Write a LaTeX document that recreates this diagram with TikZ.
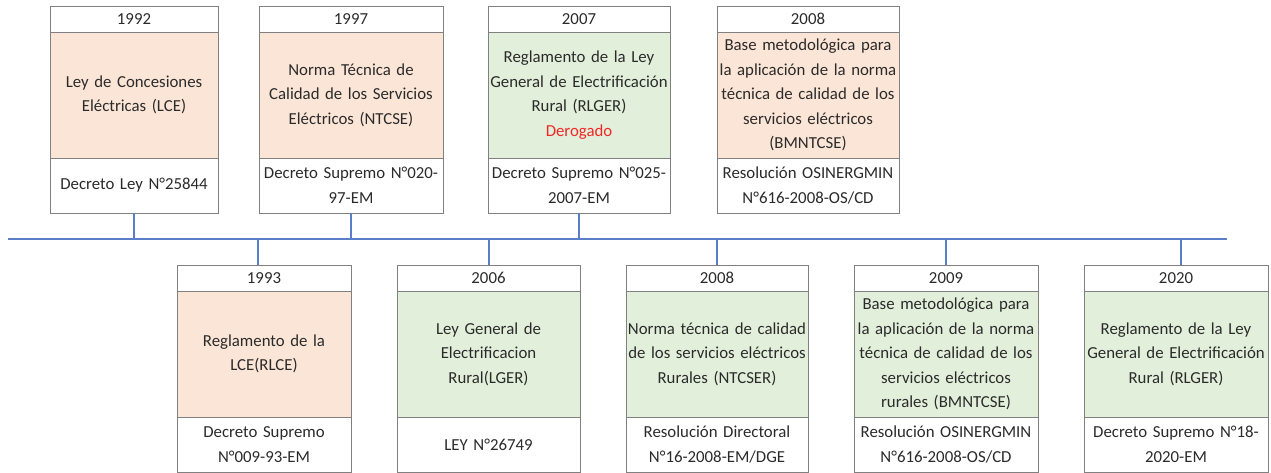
\documentclass[tikz,border=0pt]{standalone}
\usepackage{fontspec}
\setmainfont{Carlito}
\definecolor{peach}{HTML}{FBE5D6}
\definecolor{sage}{HTML}{E2EFDA}
\definecolor{frame}{HTML}{808080}
\definecolor{tline}{HTML}{5A7EC8}
\definecolor{ink}{HTML}{2B2B2B}
\definecolor{dero}{HTML}{F02828}
\tikzset{
  cell/.style={draw=frame, line width=0.9pt, inner sep=0pt, outer sep=0pt,
    anchor=north west, align=center, text=ink,
    font=\fontsize{16.8}{24.5}\selectfont},
  link/.style={draw=tline, line width=1.1pt},
}
% name, x, top, width, fill, year, body, decree
\newcommand\tlentry[8]{%
  \node[cell, minimum width=#4pt, minimum height=26pt, text width=#4pt-2pt] (y#1) at (#2,#3) {#6};
  \node[cell, fill=#5, minimum width=#4pt, minimum height=126pt, text width=#4pt-2pt] (t#1) at (y#1.south west) {#7};
  \node[cell, minimum width=#4pt, minimum height=55pt, text width=#4pt-2pt] (d#1) at (t#1.south west) {#8};
}
\begin{document}
\begin{tikzpicture}[x=1pt,y=-1pt]
\useasboundingbox (0,0) rectangle (1271,473);
\fill[white] (0,0) rectangle (1271,473);
% top row
\tlentry{1992}{50}{6}{168}{peach}{1992}{Ley de Concesiones\\Eléctricas (LCE)}{Decreto Ley N°25844}
\tlentry{1997}{259}{6}{184}{peach}{1997}{Norma Técnica de\\Calidad de los Servicios\\Eléctricos (NTCSE)}{Decreto Supremo N°020-\\97-EM}
\tlentry{2007}{488}{6}{182}{sage}{2007}{Reglamento de la Ley\\General de Electrificación\\Rural (RLGER)\\\textcolor{dero}{Derogado}}{Decreto Supremo N°025-\\2007-EM}
\tlentry{2008a}{717}{6}{182}{peach}{2008}{Base metodológica para\\la aplicación de la norma\\técnica de calidad de los\\servicios eléctricos\\(BMNTCSE)}{Resolución OSINERGMIN\\N°616-2008-OS/CD}
% bottom row
\tlentry{1993}{177}{265}{174}{peach}{1993}{Reglamento de la\\LCE(RLCE)}{Decreto Supremo\\N°009-93-EM}
\tlentry{2006}{397}{265}{183}{sage}{2006}{Ley General de\\Electrificacion\\Rural(LGER)}{LEY N°26749}
\tlentry{2008b}{626}{265}{182}{sage}{2008}{Norma técnica de calidad\\de los servicios eléctricos\\Rurales (NTCSER)}{Resolución Directoral\\N°16-2008-EM/DGE}
\tlentry{2009}{854}{265}{184}{sage}{2009}{Base metodológica para\\la aplicación de la norma\\técnica de calidad de los\\servicios eléctricos\\rurales (BMNTCSE)}{Resolución OSINERGMIN\\N°616-2008-OS/CD}
\tlentry{2020}{1084}{265}{184}{sage}{2020}{Reglamento de la Ley\\General de Electrificación\\Rural (RLGER)}{Decreto Supremo N°18-\\2020-EM}
% timeline
\coordinate (tlL) at (8,239);
\coordinate (tlR) at (1227,239);
\draw[link] (tlL) -- (tlR);
\draw[link] (d1992.south) -- (d1992.south |- tlL);
\draw[link] (d1997.south) -- (d1997.south |- tlL);
\draw[link] (d2007.south) -- (d2007.south |- tlL);
\coordinate (k1993) at (258,239);
\coordinate (k2006) at (489,239);
\coordinate (k2020) at (1181,239);
\draw[link] (k1993) -- (k1993 |- y1993.north);
\draw[link] (k2006) -- (k2006 |- y2006.north);
\draw[link] (y2008b.north |- tlL) -- (y2008b.north);
\draw[link] (y2009.north |- tlL) -- (y2009.north);
\draw[link] (k2020) -- (k2020 |- y2020.north);
\end{tikzpicture}
\end{document}
